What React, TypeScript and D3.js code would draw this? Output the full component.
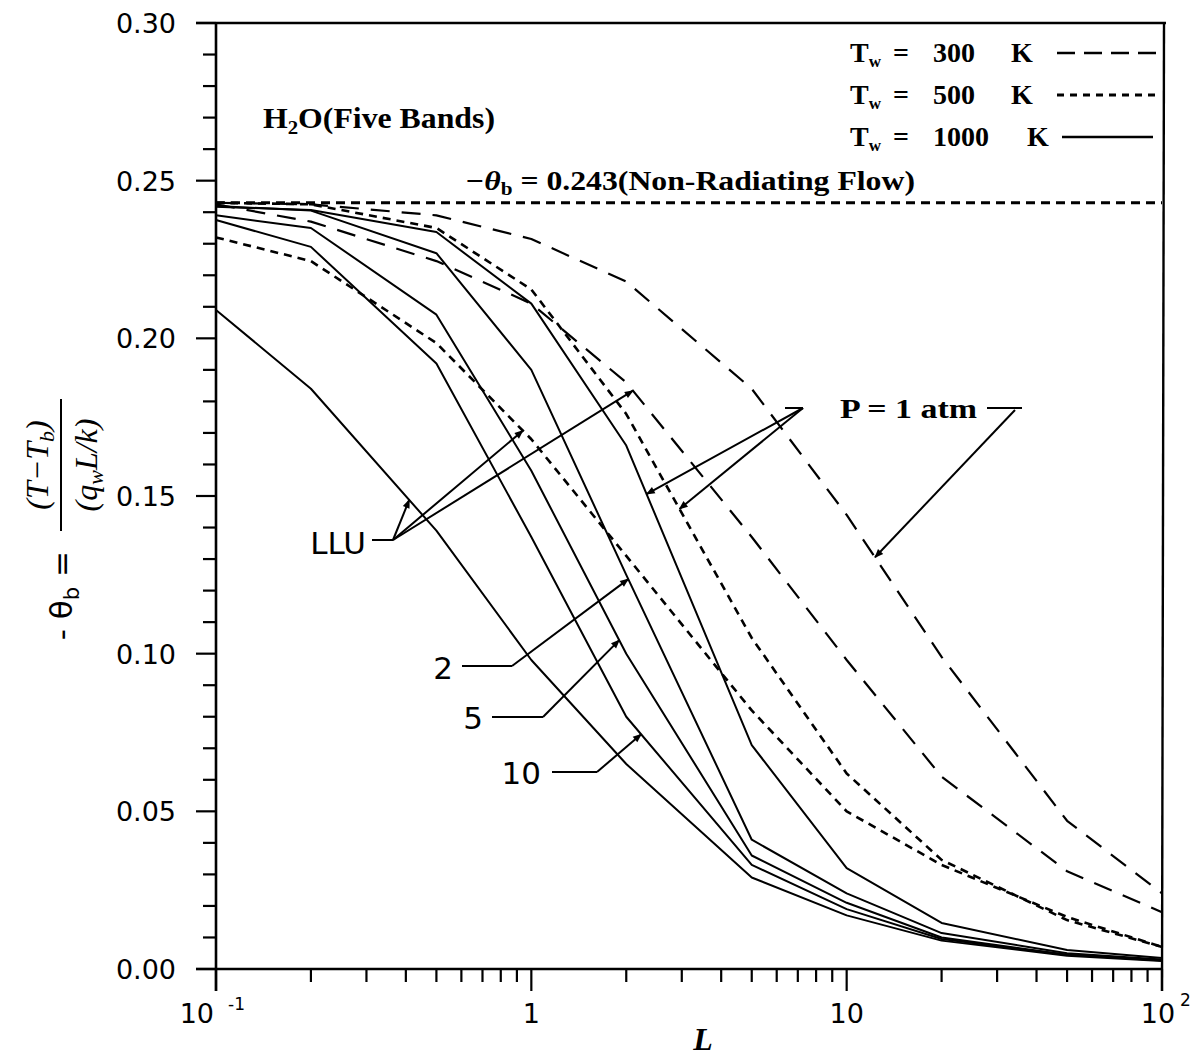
import React from "react";
import * as d3 from "d3";

// ---------- data ----------
const L_VALUES = [0.1, 0.2, 0.5, 1, 2, 5, 10, 20, 50, 100];

// Tw = 300 K (long dash)
const P1_300K = [0.243, 0.2425, 0.239, 0.2315, 0.218, 0.184, 0.144, 0.099, 0.047, 0.024];
const LLU_300K = [0.2425, 0.237, 0.2245, 0.211, 0.186, 0.137, 0.098, 0.061, 0.031, 0.018];
// Tw = 500 K (short dash)
const P1_500K = [0.243, 0.2425, 0.235, 0.2155, 0.176, 0.105, 0.062, 0.0346, 0.0155, 0.007];
const LLU_500K = [0.232, 0.2245, 0.1985, 0.168, 0.131, 0.082, 0.05, 0.033, 0.0165, 0.007];
// Tw = 1000 K (solid)
const P1_1000K = [0.2417, 0.2407, 0.2337, 0.211, 0.166, 0.071, 0.032, 0.0146, 0.006, 0.0035];
const P2_1000K = [0.242, 0.2405, 0.227, 0.19, 0.125, 0.041, 0.024, 0.0114, 0.005, 0.003];
const P5_1000K = [0.239, 0.235, 0.2075, 0.158, 0.1, 0.036, 0.021, 0.01, 0.0045, 0.0028];
const P10_1000K = [0.2375, 0.229, 0.192, 0.137, 0.08, 0.033, 0.019, 0.0095, 0.0045, 0.0027];
const LLU_1000K = [0.209, 0.184, 0.139, 0.098, 0.065, 0.029, 0.017, 0.009, 0.0042, 0.0025];

const NON_RADIATING = 0.243;

const Y_TICKS = d3.range(0, 31).map((i) => i / 100);
const X_DECADES = [0.1, 1, 10];
const LEGEND_ROWS = [
  { num: "300", dash: "18 9" },
  { num: "500", dash: "7 6" },
  { num: "1000", dash: "" },
];

const DASH300 = "19 12";
const DASH500 = "8 6";

const SERIES = [
  { vals: P1_300K, dash: DASH300, w: 2.2 },
  { vals: LLU_300K, dash: DASH300, w: 2.2 },
  { vals: P1_500K, dash: DASH500, w: 2.6 },
  { vals: LLU_500K, dash: DASH500, w: 2.6 },
  { vals: P1_1000K, dash: "", w: 2 },
  { vals: P2_1000K, dash: "", w: 2 },
  { vals: P5_1000K, dash: "", w: 2 },
  { vals: P10_1000K, dash: "", w: 2 },
  { vals: LLU_1000K, dash: "", w: 2 },
];

function valueAt(vals: number[], L: number) {
  for (let i = 0; i < L_VALUES.length - 1; i++) {
    const a = L_VALUES[i], b = L_VALUES[i + 1];
    if (L >= a && L <= b) {
      const t = (Math.log(L) - Math.log(a)) / (Math.log(b) - Math.log(a));
      return vals[i] + t * (vals[i + 1] - vals[i]);
    }
  }
  return vals[vals.length - 1];
}

export default function App() {
  const left = 216, right = 1162, top = 23, bottom = 969;
  const x = d3.scaleLog().domain([0.1, 100]).range([left, right]);
  const y = d3.scaleLinear().domain([0, 0.3]).range([bottom, top]);
  const lineGen = d3
    .line<number>()
    .x((_, i) => x(L_VALUES[i]))
    .y((d) => y(d));

  const xTicks: { v: number; major: boolean }[] = [];
  X_DECADES.forEach((d) => {
    for (let k = 1; k <= 9; k++) xTicks.push({ v: k * d, major: k === 1 });
  });
  xTicks.push({ v: 100, major: true });

  const pt = (vals: number[], L: number): [number, number] => [x(L), y(valueAt(vals, L))];

  // leader lines: knee (pixel) -> target on curve
  const arrows: { from: [number, number]; to: [number, number] }[] = [
    { from: [393, 540], to: pt(LLU_1000K, 0.41) },
    { from: [393, 540], to: pt(LLU_500K, 0.94) },
    { from: [393, 540], to: pt(LLU_300K, 2.1) },
    { from: [803, 408], to: pt(P1_1000K, 2.32) },
    { from: [803, 408], to: pt(P1_500K, 2.95) },
    { from: [1015, 410], to: pt(P1_300K, 12.3) },
    { from: [512, 666], to: pt(P2_1000K, 2.03) },
    { from: [543, 717], to: pt(P5_1000K, 1.9) },
    { from: [597, 772], to: pt(P10_1000K, 2.23) },
  ];
  const stubs: [number, number, number, number][] = [
    [372, 540, 393, 540],
    [785, 408, 803, 408],
    [987, 408, 1022, 408],
    [462, 666, 512, 666],
    [492, 717, 543, 717],
    [552, 772, 597, 772],
  ];

  const sans = "DejaVu Sans, sans-serif";
  const serif = "Liberation Serif, Times New Roman, serif";

  return (
    <svg
      width={1194}
      height={1057}
      style={{ position: "absolute", left: 0, top: 0, background: "#fff" }}
    >
      <defs>
        <marker
          id="ah"
          viewBox="0 0 10 10"
          refX="9"
          refY="5"
          markerWidth="11"
          markerHeight="9"
          markerUnits="userSpaceOnUse"
          orient="auto"
        >
          <path d="M0,1 L10,5 L0,9 z" fill="#000" />
        </marker>
      </defs>
      <rect x={0} y={0} width={1194} height={1057} fill="#fff" />

      {/* frame */}
      <line x1={left} y1={top} x2={left} y2={bottom + 22} stroke="#000" strokeWidth={2.6} />
      <line x1={left - 20} y1={bottom} x2={right} y2={bottom} stroke="#000" strokeWidth={2.6} />
      <line x1={left - 20} y1={top} x2={right + 4} y2={top} stroke="#000" strokeWidth={2.4} />
      <line x1={right + 2} y1={top} x2={right} y2={bottom + 22} stroke="#000" strokeWidth={2.4} />

      {/* y ticks */}
      {Y_TICKS.map((v, i) => {
        const major = i % 5 === 0;
        return (
          <g key={"yt" + i}>
            <line x1={left - (major ? 20 : 13)} x2={left} y1={y(v)} y2={y(v)} stroke="#000" strokeWidth={2.2} />
            {major && (
              <text x={176} y={y(v) + 10} textAnchor="end" fontFamily={sans} fontSize={27}>
                {d3.format(".2f")(v)}
              </text>
            )}
          </g>
        );
      })}

      {/* x ticks */}
      {xTicks.map((t, i) => (
        <line
          key={"xt" + i}
          x1={x(t.v)}
          x2={x(t.v)}
          y1={bottom}
          y2={bottom + (t.major ? 22 : 13)}
          stroke="#000"
          strokeWidth={2.2}
        />
      ))}
      <g fontFamily={sans} fontSize={27}>
        <text x={x(0.1) - 2} y={1023} textAnchor="end">10</text>
        <text x={x(0.1) + 12} y={1010} fontSize={17}>-1</text>
        <text x={x(1)} y={1023} textAnchor="middle">1</text>
        <text x={x(10)} y={1023} textAnchor="middle">10</text>
        <text x={x(100) - 4} y={1023} textAnchor="middle">10</text>
        <text x={x(100) + 18} y={1006} fontSize={17}>2</text>
      </g>
      <text x={703} y={1050} textAnchor="middle" fontFamily={serif} fontStyle="italic" fontWeight="bold" fontSize={32}>
        L
      </text>

      {/* y axis title */}
      <g transform="translate(61,465) rotate(-90)">
        <line x1={-66} x2={66} y1={0} y2={0} stroke="#000" strokeWidth={2} />
        <text x={0} y={-13} textAnchor="middle" fontFamily={serif} fontStyle="italic" fontSize={32}>
          (<tspan>T</tspan>−<tspan>T</tspan>
          <tspan fontSize={22} dy={6}>b</tspan>
          <tspan dy={-6}>)</tspan>
        </text>
        <text x={0} y={36} textAnchor="middle" fontFamily={serif} fontStyle="italic" fontSize={32}>
          (q<tspan fontSize={22} dy={6}>w</tspan>
          <tspan dy={-6}>L/k)</tspan>
        </text>
        <text x={-86} y={11} textAnchor="end" fontFamily={sans} fontSize={31}>
          - θ<tspan fontSize={21} dy={7}>b</tspan>
          <tspan dy={-7}> =</tspan>
        </text>
      </g>

      {/* non-radiating line */}
      <line
        x1={left}
        x2={right}
        y1={y(NON_RADIATING)}
        y2={y(NON_RADIATING)}
        stroke="#000"
        strokeWidth={3}
        strokeDasharray="9 6"
      />
      <text x={465} y={190} fontFamily={serif} fontWeight="bold" fontSize={27} textLength={450} lengthAdjust="spacingAndGlyphs">
        <tspan fontStyle="italic">−θ</tspan>
        <tspan fontSize={18} dy={5}>b</tspan>
        <tspan dy={-5}> = 0.243(Non-Radiating Flow)</tspan>
      </text>

      {/* curves */}
      {SERIES.map((s, i) => (
        <path
          key={"s" + i}
          d={lineGen(s.vals) || ""}
          fill="none"
          stroke="#000"
          strokeWidth={s.w}
          strokeDasharray={s.dash || undefined}
          strokeLinejoin="round"
        />
      ))}

      {/* title text */}
      <text x={263} y={128} fontFamily={serif} fontWeight="bold" fontSize={29} textLength={232} lengthAdjust="spacingAndGlyphs">
        H<tspan fontSize={19} dy={6}>2</tspan>
        <tspan dy={-6}>O(Five  Bands)</tspan>
      </text>

      {/* legend */}
      {LEGEND_ROWS.map((r, i) => {
        const yy = 62 + i * 42;
        return (
          <g key={"lg" + i} fontFamily={serif} fontWeight="bold" fontSize={28}>
            <text x={850} y={yy}>
              T<tspan fontSize={17} dy={5}>w</tspan>
            </text>
            <text x={893} y={yy}>=</text>
            <text x={933} y={yy}>{r.num}</text>
            <text x={i === 2 ? 1027 : 1011} y={yy}>K</text>
            <line
              x1={i === 2 ? 1062 : 1057}
              x2={i === 2 ? 1153 : 1158}
              y1={yy - 9}
              y2={yy - 9}
              stroke="#000"
              strokeWidth={i === 1 ? 3 : 2.4}
              strokeDasharray={r.dash || undefined}
            />
          </g>
        );
      })}

      {/* annotations */}
      {stubs.map((s, i) => (
        <line key={"st" + i} x1={s[0]} y1={s[1]} x2={s[2]} y2={s[3]} stroke="#000" strokeWidth={2} />
      ))}
      {arrows.map((a, i) => (
        <line
          key={"ar" + i}
          x1={a.from[0]}
          y1={a.from[1]}
          x2={a.to[0]}
          y2={a.to[1]}
          stroke="#000"
          strokeWidth={2}
          markerEnd="url(#ah)"
        />
      ))}
      <text x={840} y={418} fontFamily={serif} fontWeight="bold" fontSize={28} textLength={137} lengthAdjust="spacingAndGlyphs">
        P = 1 atm
      </text>
      <g fontFamily={sans} fontSize={31}>
        <text x={366} y={554} textAnchor="end">LLU</text>
        <text x={453} y={679} textAnchor="end">2</text>
        <text x={483} y={729} textAnchor="end">5</text>
        <text x={541} y={784} textAnchor="end">10</text>
      </g>
    </svg>
  );
}
